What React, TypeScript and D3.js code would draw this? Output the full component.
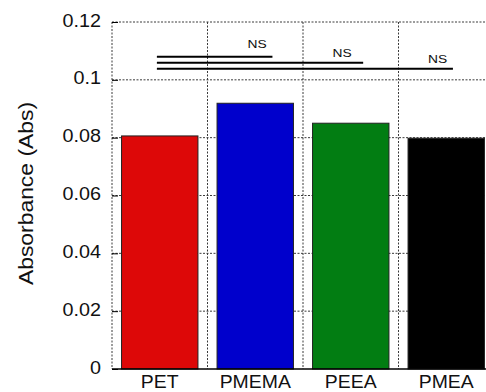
import * as d3 from 'd3';
import React, { useEffect, useRef } from 'react';

// data
const categories = ['PET', 'PMEMA', 'PEEA', 'PMEA'];
const absorbance = [0.0806, 0.0919, 0.085, 0.0798];
const barColors = ['#dd0808', '#0000cc', '#027d12', '#000000'];
const yTicks = [0, 0.02, 0.04, 0.06, 0.08, 0.1, 0.12];
const yTickLabels = ['0', '0.02', '0.04', '0.06', '0.08', '0.1', '0.12'];

// significance brackets: [x start, x end, y]
const sigLines = [
	[0.97, 2.18, 0.108],
	[0.97, 3.13, 0.1059],
	[0.97, 4.07, 0.1038],
];
// NS labels: [x, y]
const sigLabels = [
	[2.02, 0.1111],
	[2.91, 0.1079],
	[3.91, 0.1057],
];

function App() {
	const chart = useRef();

	const drawChart = () => {
		// Measurements
		const margin = { top: 22, left: 112, bottom: 23 };
		const W = 486;
		const H = 392;
		const plotRight = 494;

		const svg = d3.select(chart.current);
		svg.selectAll('*').remove();

		// Scales
		const xscale = d3
			.scaleLinear()
			.domain([0.5, 4.5])
			.range([margin.left, plotRight]);

		const yscale = d3
			.scaleLinear()
			.domain([0, 0.12])
			.range([H - margin.bottom, margin.top]);

		const gridColor = '#3a3a3a';

		// Grid
		svg
			.append('g')
			.selectAll('line')
			.data(yTicks.slice(1))
			.enter()
			.append('line')
			.attr('x1', xscale(0.5))
			.attr('x2', xscale(4.5))
			.attr('y1', (d) => yscale(d))
			.attr('y2', (d) => yscale(d))
			.attr('stroke', gridColor)
			.attr('stroke-width', 1)
			.attr('stroke-dasharray', '2,1.5');

		svg
			.append('g')
			.selectAll('line')
			.data([0.5, 1.5, 2.5, 3.5, 4.5])
			.enter()
			.append('line')
			.attr('x1', (d) => xscale(d))
			.attr('x2', (d) => xscale(d))
			.attr('y1', yscale(0.12))
			.attr('y2', yscale(0))
			.attr('stroke', gridColor)
			.attr('stroke-width', 1)
			.attr('stroke-dasharray', '2,1.5');

		// Bars
		svg
			.append('g')
			.selectAll('rect')
			.data(absorbance)
			.enter()
			.append('rect')
			.attr('x', (d, i) => xscale(i + 1 - 0.4))
			.attr('y', (d) => yscale(d))
			.attr('width', xscale(1.8) - xscale(1))
			.attr('height', (d) => yscale(0) - yscale(d))
			.attr('fill', (d, i) => barColors[i])
			.attr('stroke', '#222')
			.attr('stroke-width', 1);

		// Axis
		svg
			.append('line')
			.attr('x1', xscale(0.5))
			.attr('x2', xscale(4.5))
			.attr('y1', yscale(0))
			.attr('y2', yscale(0))
			.attr('stroke', '#000')
			.attr('stroke-width', 1.5);

		const leftAxis = d3
			.axisLeft(yscale)
			.tickValues(yTicks)
			.tickSize(-6)
			.tickFormat(() => '');

		const gy = svg
			.append('g')
			.attr('transform', `translate(${margin.left}, 0)`)
			.call(leftAxis);
		gy.select('.domain').remove();
		gy.selectAll('line').attr('stroke', '#000');

		svg
			.append('g')
			.selectAll('text')
			.data(yTicks)
			.enter()
			.append('text')
			.attr(
				'transform',
				(d) => `translate(${margin.left - 11}, ${yscale(d) + 4.5}) scale(1.13, 1)`
			)
			.attr('text-anchor', 'end')
			.attr('font-family', 'Liberation Sans, Arial, sans-serif')
			.attr('font-size', 17.5)
			.attr('fill', '#111')
			.text((d, i) => yTickLabels[i]);

		svg
			.append('g')
			.selectAll('text')
			.data(categories)
			.enter()
			.append('text')
			.attr('transform', (d, i) => `translate(${xscale(i + 1)}, 388) scale(1.05, 1)`)
			.attr('text-anchor', 'middle')
			.attr('font-family', 'Liberation Sans, Arial, sans-serif')
			.attr('font-size', 18.5)
			.attr('fill', '#111')
			.text((d) => d);

		// Y label
		svg
			.append('text')
			.attr('transform', `translate(33, 193.5) rotate(-90) scale(1.09, 1)`)
			.attr('text-anchor', 'middle')
			.attr('font-family', 'Liberation Sans, Arial, sans-serif')
			.attr('font-size', 21)
			.attr('fill', '#111')
			.text('Absorbance (Abs)');

		// Significance
		svg
			.append('g')
			.selectAll('line')
			.data(sigLines)
			.enter()
			.append('line')
			.attr('x1', (d) => xscale(d[0]))
			.attr('x2', (d) => xscale(d[1]))
			.attr('y1', (d) => yscale(d[2]))
			.attr('y2', (d) => yscale(d[2]))
			.attr('stroke', '#000')
			.attr('stroke-width', 2);

		svg
			.append('g')
			.selectAll('text')
			.data(sigLabels)
			.enter()
			.append('text')
			.attr('transform', (d) => `translate(${xscale(d[0])}, ${yscale(d[1])}) scale(1.2, 1)`)
			.attr('text-anchor', 'middle')
			.attr('font-family', 'Liberation Sans, Arial, sans-serif')
			.attr('font-size', 11.5)
			.attr('fill', '#111')
			.text('NS');
	};

	useEffect(() => {
		drawChart();
	}, []);

	return (
		<svg
			ref={chart}
			width={486}
			height={392}
			style={{ position: 'absolute', left: 0, top: 0, background: '#fff' }}
		></svg>
	);
}

export default App;
